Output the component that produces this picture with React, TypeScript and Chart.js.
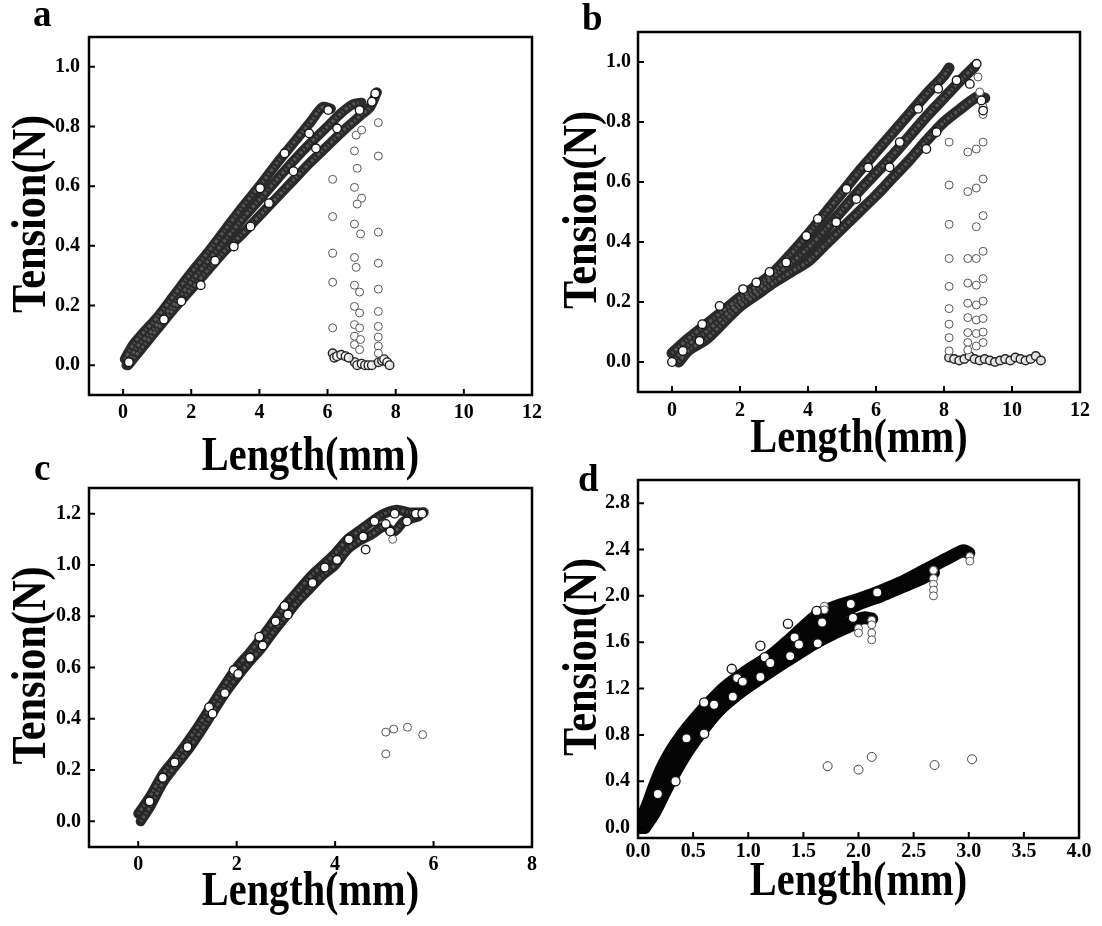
import React, { useEffect, useRef } from 'react';
import { Chart, registerables } from 'chart.js';

Chart.register(...registerables);

type P = [number, number];

const xTitleText = 'Length(mm)';
const yTitleText = 'Tension(N)';

// ---------------- Panel a ----------------
const aXTicks = [0, 2, 4, 6, 8, 10, 12];
const aYTicks = [0, 0.2, 0.4, 0.6, 0.8, 1.0];
const aBand1: P[] = [[0.05, 0.02], [0.3, 0.07], [0.6, 0.11], [1.0, 0.16], [1.5, 0.235], [2.0, 0.31], [2.5, 0.38], [3.0, 0.455], [3.5, 0.53], [4.0, 0.6], [4.5, 0.675], [5.0, 0.745], [5.5, 0.815], [5.85, 0.865], [6.1, 0.86]];
const aBand2: P[] = [[0.1, 0.0], [0.4, 0.06], [0.8, 0.11], [1.2, 0.165], [1.6, 0.22], [2.0, 0.28], [2.5, 0.35], [3.0, 0.42], [3.5, 0.49], [4.0, 0.555], [4.5, 0.62], [5.0, 0.685], [5.5, 0.745], [6.0, 0.8], [6.4, 0.845], [6.75, 0.875], [7.0, 0.88]];
const aBand3: P[] = [[0.15, 0.0], [0.5, 0.05], [1.0, 0.12], [1.5, 0.19], [2.0, 0.255], [2.5, 0.32], [3.0, 0.385], [3.5, 0.44], [4.0, 0.5], [4.5, 0.56], [5.0, 0.62], [5.5, 0.68], [6.0, 0.735], [6.5, 0.79], [7.0, 0.84], [7.25, 0.865], [7.45, 0.915]];
const aHighlights: P[] = [[0.17, 0.01], [1.2, 0.153], [1.71, 0.214], [2.28, 0.268], [2.7, 0.35], [3.25, 0.398], [3.74, 0.465], [4.02, 0.593], [4.28, 0.543], [4.74, 0.71], [5.0, 0.65], [5.46, 0.777], [5.66, 0.727], [6.02, 0.855], [6.28, 0.794], [6.94, 0.855], [7.3, 0.883], [7.4, 0.911]];
const aDrops: P[] = [
  [6.15, 0.623], [6.15, 0.498], [6.15, 0.375], [6.15, 0.278], [6.15, 0.125],
  [6.79, 0.718], [6.79, 0.596], [6.79, 0.473], [6.79, 0.361], [6.79, 0.268], [6.79, 0.197], [6.79, 0.136], [6.79, 0.097], [6.79, 0.069],
  [6.84, 0.771], [7.0, 0.788], [6.87, 0.66], [7.0, 0.56], [6.87, 0.54], [6.97, 0.44], [6.84, 0.328], [6.94, 0.245], [6.94, 0.175], [6.94, 0.125], [6.97, 0.086], [6.94, 0.052],
  [7.49, 0.813], [7.49, 0.701], [7.49, 0.446], [7.49, 0.342], [7.49, 0.255], [7.49, 0.18], [7.49, 0.13], [7.49, 0.094], [7.49, 0.064], [7.49, 0.04],
];
const aResidual1: P[] = [[6.15, 0.04], [6.2, 0.025], [6.28, 0.03], [6.4, 0.035], [6.53, 0.03], [6.62, 0.025]];
const aResidual2: P[] = [[6.8, 0.01], [6.87, 0.0], [7.0, 0.005], [7.1, 0.0], [7.2, 0.0], [7.3, 0.0], [7.5, 0.01], [7.6, 0.015], [7.66, 0.02], [7.75, 0.01], [7.82, 0.0]];

// ---------------- Panel b ----------------
const bXTicks = [0, 2, 4, 6, 8, 10, 12];
const bYTicks = [0, 0.2, 0.4, 0.6, 0.8, 1.0];
const bBand1: P[] = [[0, 0.03], [0.5, 0.08], [1.0, 0.125], [1.5, 0.17], [2.0, 0.215], [2.5, 0.255], [3.0, 0.3], [3.5, 0.36], [4.0, 0.425], [4.5, 0.495], [5.0, 0.565], [5.5, 0.635], [6.0, 0.7], [6.5, 0.765], [7.0, 0.83], [7.5, 0.895], [8.0, 0.955], [8.15, 0.98]];
const bBand2: P[] = [[0.1, 0.01], [0.5, 0.06], [1.0, 0.1], [1.5, 0.15], [2.0, 0.2], [2.5, 0.24], [3.0, 0.285], [3.5, 0.33], [4.0, 0.38], [4.5, 0.44], [5.0, 0.505], [5.5, 0.57], [6.0, 0.63], [6.5, 0.69], [7.0, 0.755], [7.5, 0.82], [8.0, 0.88], [8.5, 0.94], [8.9, 0.985]];
const bBand3: P[] = [[0.2, 0.0], [0.5, 0.04], [1.0, 0.075], [1.5, 0.13], [2.0, 0.185], [2.5, 0.225], [3.0, 0.265], [3.5, 0.3], [4.0, 0.335], [4.5, 0.39], [5.0, 0.445], [5.5, 0.5], [6.0, 0.555], [6.5, 0.615], [7.0, 0.675], [7.5, 0.74], [8.0, 0.8], [8.5, 0.845], [9.0, 0.885], [9.2, 0.88]];
const bHighlights: P[] = [[0.0, 0.0], [0.32, 0.037], [0.81, 0.07], [0.89, 0.126], [1.4, 0.187], [2.09, 0.243], [2.48, 0.265], [2.87, 0.3], [3.36, 0.332], [3.95, 0.42], [4.29, 0.477], [4.83, 0.466], [5.13, 0.577], [5.42, 0.543], [5.77, 0.649], [6.4, 0.649], [6.7, 0.733], [7.24, 0.844], [7.48, 0.71], [7.78, 0.766], [7.83, 0.911], [8.37, 0.939], [8.96, 0.994], [8.76, 0.927], [9.15, 0.838], [9.1, 0.872]];
const bDrops: P[] = [
  [8.15, 0.733], [8.15, 0.59], [8.15, 0.459], [8.15, 0.345], [8.15, 0.252], [8.15, 0.178], [8.15, 0.126], [8.15, 0.081], [8.15, 0.037],
  [8.7, 0.70], [8.7, 0.568], [8.7, 0.345], [8.7, 0.263], [8.7, 0.196], [8.7, 0.148], [8.7, 0.098], [8.7, 0.065], [8.7, 0.04],
  [8.95, 0.71], [8.95, 0.58], [8.95, 0.451], [8.95, 0.345], [8.95, 0.256], [8.95, 0.19], [8.95, 0.14], [8.95, 0.095], [8.95, 0.053],
  [9.15, 0.733], [9.15, 0.61], [9.15, 0.488], [9.15, 0.369], [9.15, 0.278], [9.15, 0.203], [9.15, 0.145], [9.15, 0.1], [9.15, 0.065],
  [9.15, 0.85], [9.15, 0.825], [9.05, 0.9], [9.0, 0.95],
];
const bResidual1: P[] = [[8.15, 0.015], [8.3, 0.01], [8.45, 0.005], [8.6, 0.01], [8.75, 0.02], [8.9, 0.01], [9.05, 0.005], [9.2, 0.01], [9.35, 0.005], [9.5, 0.0], [9.65, 0.005], [9.8, 0.01], [9.95, 0.005], [10.1, 0.015], [10.25, 0.01], [10.4, 0.005], [10.55, 0.01], [10.7, 0.02], [10.85, 0.005]];

// ---------------- Panel c ----------------
const cXTicks = [0, 2, 4, 6, 8];
const cYTicks = [0, 0.2, 0.4, 0.6, 0.8, 1.0, 1.2];
const cBand1: P[] = [[0.0, 0.03], [0.25, 0.1], [0.5, 0.185], [0.75, 0.245], [1.0, 0.31], [1.25, 0.38], [1.5, 0.455], [1.75, 0.53], [2.0, 0.6], [2.25, 0.655], [2.5, 0.715], [2.75, 0.78], [3.0, 0.845], [3.25, 0.9], [3.5, 0.955], [3.75, 1.0], [4.0, 1.045], [4.25, 1.1], [4.5, 1.135], [4.75, 1.17], [5.0, 1.2], [5.25, 1.215], [5.5, 1.205], [5.8, 1.205]];
const cBand2: P[] = [[0.05, 0.0], [0.25, 0.06], [0.5, 0.15], [0.75, 0.215], [1.0, 0.275], [1.25, 0.345], [1.5, 0.42], [1.75, 0.495], [2.0, 0.56], [2.25, 0.62], [2.5, 0.675], [2.75, 0.74], [3.0, 0.8], [3.25, 0.86], [3.5, 0.91], [3.75, 0.96], [4.0, 1.0], [4.25, 1.06], [4.5, 1.095], [4.75, 1.12], [5.0, 1.15], [5.2, 1.13], [5.4, 1.17], [5.7, 1.19]];
const cHighlights: P[] = [[0.23, 0.078], [0.5, 0.17], [0.74, 0.23], [1.0, 0.29], [1.44, 0.445], [1.51, 0.42], [1.76, 0.5], [1.94, 0.59], [2.03, 0.575], [2.27, 0.638], [2.46, 0.72], [2.53, 0.686], [2.79, 0.78], [2.97, 0.84], [3.04, 0.807], [3.54, 0.93], [3.79, 0.99], [4.04, 1.02], [4.28, 1.1], [4.57, 1.11], [4.62, 1.06], [4.8, 1.17], [5.03, 1.16], [5.12, 1.13], [5.21, 1.2], [5.46, 1.17], [5.64, 1.2], [5.77, 1.2]];
const cDrops: P[] = [[5.03, 0.348], [5.19, 0.36], [5.47, 0.367], [5.78, 0.338], [5.03, 0.263], [5.17, 1.1]];

// ---------------- Panel d ----------------
const dXTicks = [0, 0.5, 1.0, 1.5, 2.0, 2.5, 3.0, 3.5, 4.0];
const dYTicks = [0, 0.4, 0.8, 1.2, 1.6, 2.0, 2.4, 2.8];
const dBand1: P[] = [[0.0, 0.02], [0.08, 0.18], [0.15, 0.36], [0.22, 0.52], [0.3, 0.66], [0.4, 0.8], [0.5, 0.92], [0.65, 1.08], [0.8, 1.22], [1.0, 1.36], [1.2, 1.48], [1.35, 1.6], [1.5, 1.73], [1.65, 1.85], [1.8, 1.91], [2.0, 1.97], [2.2, 2.04], [2.4, 2.12], [2.6, 2.22], [2.8, 2.32], [2.95, 2.39], [3.0, 2.37]];
const dBand2: P[] = [[0.02, 0.0], [0.1, 0.2], [0.2, 0.42], [0.3, 0.6], [0.4, 0.74], [0.5, 0.86], [0.65, 1.01], [0.8, 1.14], [1.0, 1.28], [1.2, 1.41], [1.4, 1.54], [1.6, 1.68], [1.8, 1.83], [2.0, 1.93], [2.2, 2.0], [2.4, 2.08], [2.55, 2.14], [2.68, 2.2]];
const dBand3: P[] = [[0.04, 0.0], [0.12, 0.16], [0.22, 0.36], [0.32, 0.53], [0.42, 0.68], [0.52, 0.8], [0.62, 0.91], [0.75, 1.03], [0.9, 1.15], [1.0, 1.22], [1.2, 1.35], [1.4, 1.47], [1.6, 1.59], [1.8, 1.71], [1.95, 1.78], [2.05, 1.81], [2.12, 1.8]];
const dBand4: P[] = [[0.06, 0.0], [0.15, 0.13], [0.25, 0.32], [0.35, 0.5], [0.45, 0.66], [0.6, 0.86], [0.74, 1.02], [0.87, 1.13], [1.0, 1.22], [1.28, 1.4], [1.5, 1.54], [1.76, 1.67], [1.97, 1.76]];
const dHighlights: P[] = [[0.18, 0.29], [0.34, 0.4], [0.44, 0.77], [0.6, 0.81], [0.6, 1.08], [0.69, 1.06], [0.85, 1.37], [0.86, 1.13], [0.9, 1.29], [0.95, 1.26], [1.11, 1.57], [1.11, 1.3], [1.15, 1.47], [1.2, 1.42], [1.36, 1.76], [1.42, 1.64], [1.46, 1.58], [1.38, 1.48], [1.62, 1.87], [1.67, 1.77], [1.63, 1.59], [1.93, 1.93], [1.95, 1.81], [2.17, 2.03]];
const dDrops: P[] = [[3.01, 2.34], [3.01, 2.3], [2.68, 2.22], [2.68, 2.15], [2.68, 2.1], [2.68, 2.05], [2.68, 2.0], [2.12, 1.79], [2.12, 1.75], [2.12, 1.68], [2.12, 1.62], [2.0, 1.72], [2.0, 1.68], [1.69, 1.91], [1.69, 1.88]];
const dOutliers: P[] = [[1.72, 0.53], [2.0, 0.5], [2.12, 0.61], [2.69, 0.54], [3.03, 0.59]];

const FONT = '"Liberation Serif", "Times New Roman", Times, serif';

const framePlugin = {
  id: 'frame',
  afterDraw(chart: any, _args: any, opts: any) {
    const { ctx, chartArea } = chart;
    const { left, top, right, bottom } = chartArea;
    const xs = chart.scales.x;
    const ys = chart.scales.y;
    ctx.save();
    ctx.strokeStyle = '#000';
    ctx.lineWidth = 2.5;
    ctx.strokeRect(left, top, right - left, bottom - top);
    ctx.lineWidth = 2;
    ctx.beginPath();
    for (const v of opts.xTicks as number[]) {
      const px = xs.getPixelForValue(v);
      if (px > left + 3 && px < right - 3) {
        ctx.moveTo(px, bottom);
        ctx.lineTo(px, bottom - 6);
      }
    }
    for (const v of opts.yTicks as number[]) {
      const py = ys.getPixelForValue(v);
      if (py > top + 3 && py < bottom - 3) {
        ctx.moveTo(left, py);
        ctx.lineTo(left + 6, py);
      }
    }
    ctx.stroke();
    ctx.fillStyle = '#000';
    ctx.font = `bold 37px ${FONT}`;
    ctx.textAlign = 'left';
    ctx.textBaseline = 'alphabetic';
    ctx.fillText(opts.letter, opts.letterX, opts.letterY);
    ctx.font = `bold 48px ${FONT}`;
    ctx.textAlign = 'center';
    ctx.save();
    ctx.translate((left + right) / 2, opts.xTitleBaseline);
    ctx.scale(0.84, 1);
    ctx.fillText(xTitleText, 0, 0);
    ctx.restore();
    ctx.save();
    ctx.translate(opts.yTitleBaseline, (top + bottom) / 2 - 2);
    ctx.rotate(-Math.PI / 2);
    ctx.scale(0.88, 1);
    ctx.fillText(yTitleText, 0, 0);
    ctx.restore();
    ctx.restore();
  },
};

const toXY = (arr: P[]) => arr.map(([x, y]) => ({ x, y }));

interface Spec {
  letter: string;
  letterX: number;
  letterY: number;
  xTitleBaseline: number;
  yTitleBaseline: number;
  padding: { left: number; top: number; right: number; bottom: number };
  yW: number;
  xH: number;
  xMin: number; xMax: number; yMin: number; yMax: number;
  xTicks: number[]; yTicks: number[];
  xDigits: number;
  xTickPad: number; yTickPad: number;
  bands: P[][];
  bandColor: string;
  bandWidth: number;
  texture: boolean;
  highlights: P[];
  hlRadius: number;
  drops: P[];
  residuals?: P[][];
  outliers?: P[];
}

function buildChart(canvas: HTMLCanvasElement, s: Spec) {
  const datasets: any[] = [];
  datasets.push({
    data: toXY(s.highlights), showLine: false, pointRadius: s.hlRadius,
    pointBackgroundColor: '#fff', pointBorderColor: '#111', pointBorderWidth: 1.3,
  });
  datasets.push({
    data: toXY(s.drops), showLine: false, pointRadius: 4,
    pointBackgroundColor: '#fff', pointBorderColor: '#555', pointBorderWidth: 1,
  });
  if (s.outliers) {
    datasets.push({
      data: toXY(s.outliers), showLine: false, pointRadius: 4.5,
      pointBackgroundColor: '#fff', pointBorderColor: '#444', pointBorderWidth: 1,
    });
  }
  for (const r of s.residuals || []) {
    datasets.push({
      data: toXY(r), showLine: true, borderColor: '#2e2e2e', borderWidth: 7, tension: 0.3,
      borderCapStyle: 'round', pointRadius: 4.3,
      pointBackgroundColor: 'rgba(255,255,255,0.85)', pointBorderColor: '#222', pointBorderWidth: 1.4,
    });
  }
  if (s.texture) {
    for (const b of s.bands) {
      datasets.push({
        data: toXY(b), showLine: true, pointRadius: 0, borderColor: 'rgba(170,170,170,0.35)',
        borderWidth: 3, borderDash: [1.5, 2.5, 3, 2], tension: 0.3, fill: false,
      });
    }
  }
  for (const b of s.bands) {
    datasets.push({
      data: toXY(b), showLine: true, pointRadius: 0, borderColor: s.bandColor,
      borderWidth: s.bandWidth, tension: 0.3, borderCapStyle: 'round', borderJoinStyle: 'round', fill: false,
    });
  }
  const tickFont = { family: FONT, size: 20, weight: 'bold' as const };
  return new Chart(canvas, {
    type: 'scatter',
    data: { datasets },
    options: {
      responsive: false,
      animation: false,
      events: [],
      layout: { padding: s.padding },
      plugins: {
        legend: { display: false },
        tooltip: { enabled: false },
        frame: {
          letter: s.letter, letterX: s.letterX, letterY: s.letterY, xTicks: s.xTicks, yTicks: s.yTicks,
          xTitleBaseline: s.xTitleBaseline, yTitleBaseline: s.yTitleBaseline,
        },
      } as any,
      scales: {
        x: {
          type: 'linear', position: 'bottom', min: s.xMin, max: s.xMax,
          afterFit: (sc: any) => { sc.height = s.xH; },
          afterBuildTicks: (sc: any) => { sc.ticks = s.xTicks.map((v) => ({ value: v })); },
          ticks: {
            autoSkip: false, maxRotation: 0, minRotation: 0, padding: s.xTickPad, color: '#000', font: tickFont,
            callback: (v: any) => Number(v).toFixed(s.xDigits),
          },
          grid: { display: false, drawTicks: false },
          border: { display: false },
          title: { display: false },
        },
        y: {
          type: 'linear', position: 'left', min: s.yMin, max: s.yMax,
          afterFit: (sc: any) => { sc.width = s.yW; },
          afterBuildTicks: (sc: any) => { sc.ticks = s.yTicks.map((v) => ({ value: v })); },
          ticks: {
            autoSkip: false, padding: s.yTickPad, color: '#000', font: tickFont,
            callback: (v: any) => Number(v).toFixed(1),
          },
          grid: { display: false, drawTicks: false },
          border: { display: false },
          title: { display: false },
        },
      },
    } as any,
    plugins: [framePlugin as any],
  });
}

const W = 1102;
const H = 926;

const specs: Spec[] = [
  {
    letter: 'a', letterX: 33, letterY: 26, xTitleBaseline: 470, yTitleBaseline: 45,
    padding: { left: 0, top: 37, right: W - 532, bottom: H - 479 },
    yW: 89, xH: 84,
    xMin: -1, xMax: 12, yMin: -0.1, yMax: 1.1, xTicks: aXTicks, yTicks: aYTicks, xDigits: 0,
    xTickPad: 6, yTickPad: 9,
    bands: [aBand1, aBand2, aBand3], bandColor: '#2a2a2a', bandWidth: 10, texture: true,
    highlights: aHighlights, hlRadius: 4.3, drops: aDrops, residuals: [aResidual1, aResidual2],
  },
  {
    letter: 'b', letterX: 582, letterY: 30, xTitleBaseline: 452, yTitleBaseline: 596,
    padding: { left: 551, top: 32, right: W - 1080, bottom: H - 460 },
    yW: 87, xH: 68,
    xMin: -1, xMax: 12, yMin: -0.1, yMax: 1.1, xTicks: bXTicks, yTicks: bYTicks, xDigits: 0,
    xTickPad: 7, yTickPad: 7,
    bands: [bBand1, bBand2, bBand3], bandColor: '#2a2a2a', bandWidth: 11, texture: true,
    highlights: bHighlights, hlRadius: 4.3, drops: bDrops, residuals: [bResidual1],
  },
  {
    letter: 'c', letterX: 34, letterY: 480, xTitleBaseline: 905, yTitleBaseline: 45,
    padding: { left: 0, top: 488, right: W - 532, bottom: H - 911 },
    yW: 89, xH: 64,
    xMin: -1, xMax: 8, yMin: -0.1, yMax: 1.3, xTicks: cXTicks, yTicks: cYTicks, xDigits: 0,
    xTickPad: 6, yTickPad: 8,
    bands: [cBand1, cBand2], bandColor: '#262626', bandWidth: 10, texture: true,
    highlights: cHighlights, hlRadius: 4.3, drops: cDrops,
  },
  {
    letter: 'd', letterX: 578, letterY: 491, xTitleBaseline: 895, yTitleBaseline: 596,
    padding: { left: 551, top: 480, right: W - 1079, bottom: H - 903 },
    yW: 87, xH: 65,
    xMin: 0, xMax: 4, yMin: -0.09, yMax: 3.0, xTicks: dXTicks, yTicks: dYTicks, xDigits: 1,
    xTickPad: 2, yTickPad: 8,
    bands: [dBand1, dBand2, dBand3, dBand4], bandColor: '#050505', bandWidth: 13, texture: false,
    highlights: dHighlights, hlRadius: 4.6, drops: dDrops, outliers: dOutliers,
  },
];

function Panel({ spec }: { spec: Spec }) {
  const ref = useRef<HTMLCanvasElement | null>(null);
  useEffect(() => {
    if (!ref.current) return;
    const chart = buildChart(ref.current, spec);
    return () => chart.destroy();
  }, [spec]);
  return (
    <canvas
      ref={ref}
      width={W}
      height={H}
      style={{ position: 'absolute', left: 0, top: 0, width: W, height: H }}
    />
  );
}

export default function App() {
  return (
    <div style={{ position: 'absolute', left: 0, top: 0, width: W, height: H, background: '#fff', overflow: 'hidden' }}>
      {specs.map((s) => (
        <Panel key={s.letter} spec={s} />
      ))}
    </div>
  );
}
